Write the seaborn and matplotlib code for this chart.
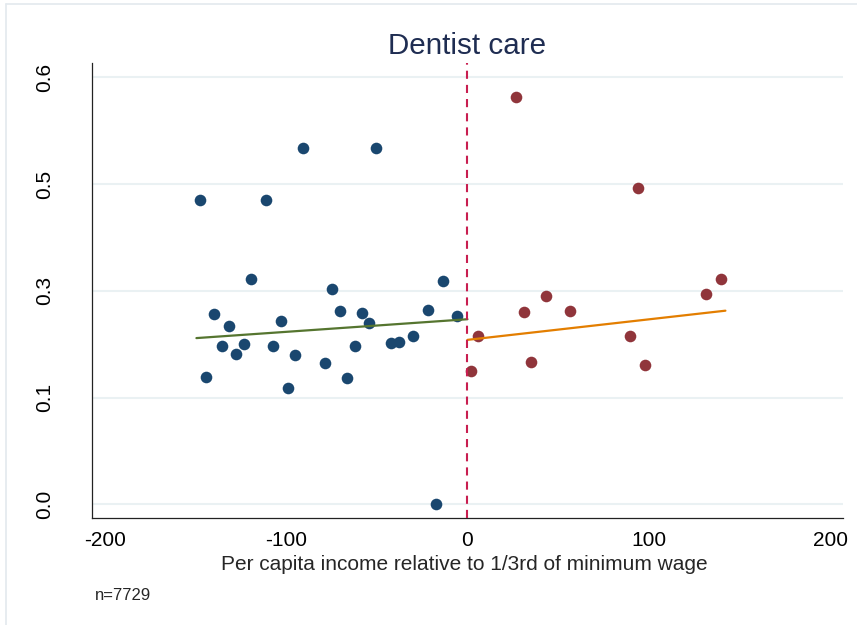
import matplotlib
matplotlib.use("Agg")
import matplotlib.pyplot as plt
import seaborn as sns
import pandas as pd
from matplotlib.lines import Line2D

# Binned means, below the threshold
below_x = [-90.7, -50.2, -147.7, -111.3, -119.4, -13.5, -74.5, -139.8, -131.5, -135.5,
           -127.8, -123.4, -144.0, -103.1, -107.2, -94.9, -99.1, -78.7, -70.4, -66.6,
           -62.3, -58.3, -54.3, -42.1, -37.9, -30.0, -21.7, -5.5, -17.5]
below_y = [0.500, 0.500, 0.428, 0.428, 0.317, 0.314, 0.302, 0.268, 0.250, 0.223,
           0.211, 0.225, 0.179, 0.258, 0.223, 0.210, 0.164, 0.199, 0.271, 0.177,
           0.223, 0.269, 0.254, 0.226, 0.228, 0.237, 0.273, 0.265, 0.000]

# Binned means, above the threshold
above_x = [27.0, 93.9, 140.1, 131.8, 43.6, 31.1, 56.4, 6.1, 89.9, 1.8, 35.3, 98.2]
above_y = [0.572, 0.445, 0.317, 0.296, 0.292, 0.270, 0.271, 0.237, 0.236, 0.187, 0.200, 0.195]

# Linear fit on each side (end points)
fit_below_x = [-149.5, 0.0]
fit_below_y = [0.2335, 0.260]
fit_above_x = [0.0, 142.3]
fit_above_y = [0.231, 0.272]

xticks = [-200, -100, 0, 100, 200]
yticks = [0.0, 0.15, 0.30, 0.45, 0.60]
ytick_labels = ["0.0", "0.1", "0.3", "0.5", "0.6"]

title = "Dentist care"
xlabel = "Per capita income relative to 1/3rd of minimum wage"
note = "n=7729"

NAVY = "#1a476f"
MAROON = "#90353b"
FOREST = "#55752f"
ORANGE = "#e37e00"
CRANBERRY = "#c81e50"
GRID = "#eaf1f3"

sns.set_style("white")
plt.rcParams["font.family"] = ["Liberation Sans", "DejaVu Sans"]

W, H = 857, 625
fig = plt.figure(figsize=(W / 100, H / 100), dpi=100)
ax = fig.add_axes([92 / W, 1 - 518.3 / H, (842.7 - 92) / W, (518.3 - 63) / H])

# light frame edges (left and top) around the graph region
frame_kw = dict(transform=fig.transFigure, color="#e3e9ee", linewidth=1.2)
fig.add_artist(Line2D([6 / W, 6 / W], [0, 1 - 4 / H], **frame_kw))
fig.add_artist(Line2D([6 / W, 1], [1 - 4 / H, 1 - 4 / H], **frame_kw))

df_below = pd.DataFrame({"x": below_x, "y": below_y})
df_above = pd.DataFrame({"x": above_x, "y": above_y})
df_fit_below = pd.DataFrame({"x": fit_below_x, "y": fit_below_y})
df_fit_above = pd.DataFrame({"x": fit_above_x, "y": fit_above_y})

for yv in yticks:
    ax.axhline(yv, color=GRID, linewidth=1.5, zorder=0)

sns.scatterplot(data=df_below, x="x", y="y", ax=ax, color=NAVY, s=70,
                linewidth=0, zorder=3)
sns.scatterplot(data=df_above, x="x", y="y", ax=ax, color=MAROON, s=70,
                linewidth=0, zorder=3)
sns.lineplot(data=df_fit_below, x="x", y="y", ax=ax, color=FOREST, linewidth=1.6,
             zorder=4)
sns.lineplot(data=df_fit_above, x="x", y="y", ax=ax, color=ORANGE, linewidth=1.6,
             zorder=4)
ax.axvline(0, color=CRANBERRY, linewidth=1.5, linestyle=(0, (3.9, 2.9)), zorder=5)

ax.set_xlim(-207.1, 207.0)
ax.set_ylim(-0.0197, 0.620)

ax.set_xticks(xticks)
ax.set_xticklabels([str(t) for t in xticks], fontsize=15)
ax.set_yticks(yticks)
ax.set_yticklabels(ytick_labels, fontsize=15, rotation=90, va="center")

ax.tick_params(axis="both", direction="out", length=4.3, width=0.8,
               color="#333333", labelcolor="black")
ax.tick_params(axis="x", pad=5)
ax.tick_params(axis="y", pad=23)

for side in ["top", "right"]:
    ax.spines[side].set_visible(False)
for side in ["left", "bottom"]:
    ax.spines[side].set_color("#222222")
    ax.spines[side].set_linewidth(0.9)

ax.set_ylabel("")
ax.set_xlabel(xlabel, fontsize=15, va="baseline")
ax.xaxis.set_label_coords(0.4955, -0.1135)

ax.set_title(title, fontsize=21.3, color="#1f2d52", pad=6.5)

fig.text(95 / W, (H - 600) / H, note, fontsize=12, va="baseline", ha="left")

fig.savefig("out.png", dpi=100, facecolor="white")
